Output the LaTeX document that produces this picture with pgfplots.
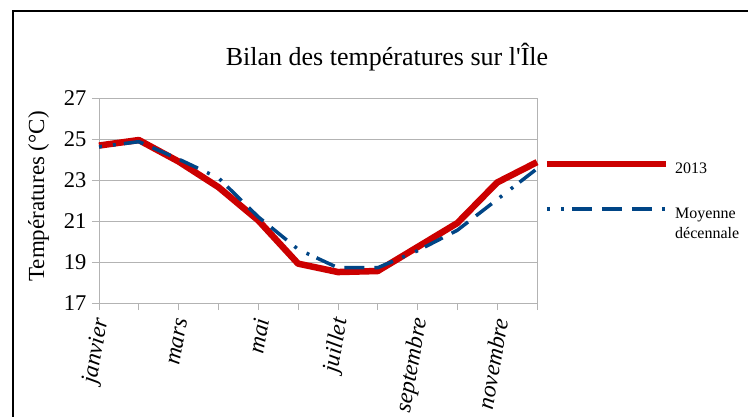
\documentclass[border=0pt]{standalone}
\usepackage{pgfplots}
\pgfplotsset{compat=1.18}
\usepackage{fontspec}
\setmainfont{Liberation Serif}
\definecolor{rouge}{RGB}{204,0,0}
\definecolor{bleu}{RGB}{0,69,134}
\definecolor{grille}{RGB}{179,179,179}
\begin{document}
\begin{tikzpicture}
\path[use as bounding box] (0,0) rectangle (748bp,-417bp);
\draw[line width=1.5bp] (13bp,-420bp) -- (13bp,-11bp) -- (750bp,-11bp);
\node[anchor=base, font=\fontsize{26bp}{30bp}\selectfont] at (387bp,-65.5bp) {Bilan des températures sur l\textquotesingle Île};
\begin{axis}[at={(99bp,-303bp)}, anchor=south west, scale only axis,
  width=438bp, height=205bp, clip=false,
  xmin=0, xmax=11, ymin=17, ymax=27,
  ytick={17,19,...,27}, xtick={0,...,11},
  xticklabels={janvier,,mars,,mai,,juillet,,septembre,,novembre,},
  ymajorgrids, grid style={grille, line width=0.8bp},
  axis line style={grille, line width=0.8bp},
  tick style={grille, line width=0.8bp}, major tick length=7bp,
  tick align=outside, tick pos=left,
  /pgf/number format/assume math mode=true,
  yticklabel style={font=\fontsize{22.5bp}{26bp}\selectfont, xshift=-2bp},
  xticklabel style={font=\fontsize{23.5bp}{27bp}\selectfont\itshape, xshift=4bp, yshift=-5bp, rotate=80, anchor=east},
  ylabel={Températures (°C)},
  ylabel style={font=\fontsize{23bp}{27bp}\selectfont, at={(axis description cs:-0.138,0.52)}, anchor=center},
  legend style={at={(axis description cs:1.008,0.706)}, anchor=north west, draw=none, fill=none,
    font=\fontsize{16bp}{20.5bp}\selectfont, row sep=29bp,
    cells={anchor=base west}},
  legend cell align=left,
  legend image code/.code={\draw[#1] (0bp,4.5bp) -- (119bp,4.5bp);},
]
\addplot[rouge, line width=6.5bp, line join=round] coordinates {
(0,24.68) (1,24.95) (2,23.9) (3,22.65) (4,21.03) (5,18.92)
(6,18.51) (7,18.56) (8,19.73) (9,20.9) (10,22.88) (11,23.87)};
\addlegendentry{\hspace{4bp}2013}
\addplot[bleu, line width=3.5bp, dash pattern=on 3bp off 11bp on 3bp off 8bp on 20bp off 10bp on 20bp off 10bp on 20bp off 10bp] coordinates {
(0,24.62) (1,24.87) (2,24.02) (3,23.1) (4,21.2) (5,19.62)
(6,18.72) (7,18.72) (8,19.55) (9,20.55) (10,22.05) (11,23.55)};
\addlegendentry{\hspace{4bp}\vtop{\hbox{Moyenne}\hbox{décennale}}}
\end{axis}
\end{tikzpicture}
\end{document}
